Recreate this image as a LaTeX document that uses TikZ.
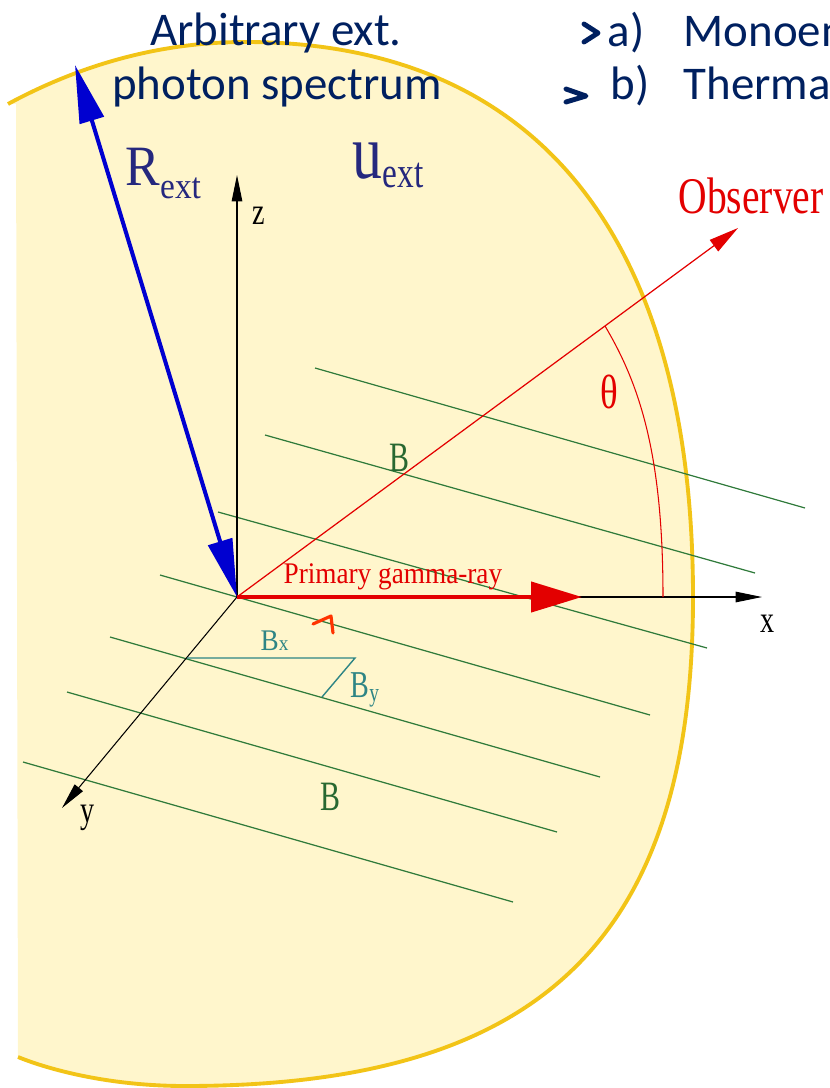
\documentclass[tikz,border=0pt]{standalone}
\usepackage{fontspec}
\setmainfont{Liberation Serif}
\newfontfamily\slidefont{Carlito}
\usetikzlibrary{arrows.meta}
\definecolor{cfill}{HTML}{FFF6CC}
\definecolor{cgold}{HTML}{F2C417}
\definecolor{cnavy}{HTML}{002060}
\definecolor{cink}{HTML}{25287E}
\definecolor{cblue}{HTML}{0000D0}
\definecolor{cred}{HTML}{E30000}
\definecolor{cgreen}{HTML}{2F7A3A}
\definecolor{cteal}{HTML}{2E8585}
\definecolor{cmark}{HTML}{FF3300}
\tikzset{
  every picture/.style={line width=0.7pt},
  slide/.style={font=\slidefont\fontsize{26.7}{32}\selectfont, text=cnavy, inner sep=0pt},
  chevron/.style={draw=cnavy, line width=2.8pt, line cap=round, line join=round},
  lbl/.style={inner sep=0pt, anchor=base west, yscale=#1},
  lbl/.default=1.3,
  axis/.style={-{Triangle[length=15pt, width=6pt]}, draw=black, line width=0.6pt},
  field/.style={draw=cgreen, line width=0.7pt},
  comp/.style={draw=cteal, line width=0.8pt},
  radius arrow/.style={{Triangle[length=33pt, width=14pt]}-{Triangle[length=33pt, width=14pt]}, draw=cblue, line width=2.3pt},
  gamma arrow/.style={-{Triangle[length=29pt, width=17pt]}, draw=cred, line width=2.6pt},
  view arrow/.style={-{Triangle[length=17pt, width=8pt]}, draw=cred, line width=0.7pt},
}

\begin{document}
\begin{tikzpicture}[x=0.02cm, y=-0.02cm]
  \useasboundingbox (0,0) rectangle (829,1088);
  \clip (0,0) rectangle (829,1088);
  % emitting region
  \def\rim{(8,104) .. controls (80,65) and (160,42) .. (245,42)
    .. controls (536,42) and (693,236) .. (693,597)
    .. controls (693,939) and (541,1086) .. (185,1086)
    .. controls (110,1086) and (50,1070) .. (18,1057)}
  \fill[cfill] \rim -- (16,104) -- cycle;
  \draw[cgold, line width=2.2pt] \rim;
  % field lines
  \foreach \xa/\ya/\xb/\yb in {315/368/805/508, 265/435/755/573, 218/512/707/648, 160/575/650/715, 110/637/600/777, 67/692/557/832, 23/762/513/902}
    \draw[field] (\xa,\ya) -- (\xb,\yb);
  % axes
  \coordinate (O) at (237,597);
  \coordinate (zend) at (237,175);
  \coordinate (xend) at (762,597);
  \coordinate (yend) at (62,808);
  \draw[axis] (O) -- (zend);
  \draw[axis] (O) -- (xend);
  \draw[axis] (O) -- (yend);
  \node[lbl=1.35, font=\fontsize{16}{18}\selectfont] (zlab) at (252,224) {z};
  \node[lbl=1.35, font=\fontsize{16}{18}\selectfont] (xlab) at (760,632) {x};
  \node[lbl=1.35, font=\fontsize{16}{18}\selectfont] (ylab) at (80,822) {y};
  % field components
  \coordinate (bx0) at (187,658);
  \coordinate (bx1) at (355,658);
  \coordinate (by1) at (322,697);
  \draw[comp] (bx0) -- (bx1) -- (by1);
  \node[lbl=1.1, text=cteal, font=\fontsize{15.5}{17}\selectfont] (bxlab) at (260,650) {B{\fontsize{11}{12}\selectfont x}};
  \node[lbl=1.35, text=cteal, font=\fontsize{16}{18}\selectfont] (bylab) at (350,697) {B\raisebox{-2pt}{\fontsize{11}{12}\selectfont y}};
  % observer direction and angle
  \coordinate (obs) at (738,228);
  \coordinate (th0) at (605,326);
  \coordinate (th1) at (663,597);
  \draw[view arrow] (O) -- (obs);
  \draw[cred, line width=0.6pt] (th0) .. controls (640,385) and (663,455) .. (th1);
  \node[lbl=1.3, text=cred, font=\fontsize{22.5}{25}\selectfont] (observer) at (678,213) {Observer};
  \node[lbl=1.3, text=cred, font=\fontsize{21}{23}\selectfont] (theta) at (600,408) {θ};
  % magnetic field labels
  \node[lbl=1.4, text=cgreen!85!black, font=\fontsize{17}{19}\selectfont] (bup) at (389,471) {B};
  \node[lbl=1.4, text=cgreen!85!black, font=\fontsize{17}{19}\selectfont] (blow) at (320,810) {B};
  % external radiation field
  \coordinate (rtop) at (75,65);
  \draw[radius arrow] (rtop) -- (O);
  \node[lbl=1.1, text=cink, font=\fontsize{29.5}{31}\selectfont] (rext) at (125,185) {R\raisebox{-7pt}{\fontsize{19}{21}\selectfont ext}};
  \node[lbl=1.3, text=cink, font=\fontsize{34}{36}\selectfont] (uext) at (352,178) {u\raisebox{-4pt}{\fontsize{19}{21}\selectfont ext}};
  % primary gamma-ray
  \coordinate (gend) at (582,597);
  \draw[gamma arrow] (O) -- (gend);
  \node[lbl=1.1, text=cred, font=\fontsize{15.5}{17}\selectfont] (gamma) at (283,583) {Primary gamma-ray};
  \draw[cmark, line width=1.8pt, line cap=round, line join=round] (313,624) -- (331,616) -- (333,633);
  % slide text
  \node[slide, anchor=base] (title1) at (276,46) {Arbitrary ext.};
  \node[slide, anchor=base] (title2) at (277,100) {photon spectrum};
  \draw[chevron] (584,24) -- (598,33) -- (584,42);
  \node[slide, anchor=base west] (itema) at (607,47) {a)};
  \node[slide, anchor=base west] (mono) at (683,47) {Monoenergetic};
  \draw[chevron] (566,89) -- (586,96) -- (566,102);
  \node[slide, anchor=base west] (itemb) at (610,100) {b)};
  \node[slide, anchor=base west] (therm) at (683,100) {Thermal};
\end{tikzpicture}
\end{document}
